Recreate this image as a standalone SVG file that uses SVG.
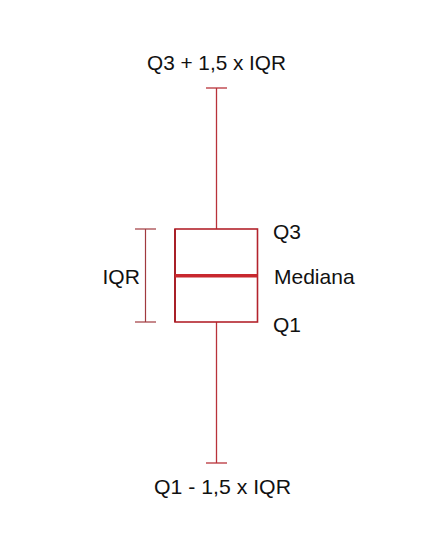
<svg xmlns="http://www.w3.org/2000/svg" width="445" height="555" viewBox="0 0 445 555">
<style>
.t{font-family:"Liberation Sans",Arial,sans-serif;font-size:21px;fill:#111}
.ln{stroke:#b8323a;stroke-width:1.3;fill:none}
.bx{stroke:#b3232c;stroke-width:1.6;fill:#fff}
.br{stroke:#a03a3e;stroke-width:1.2;fill:none}
</style>
<rect width="445" height="555" fill="#fff"/>
<g id="connectors">
<line class="ln" x1="216.5" y1="88" x2="216.5" y2="229"/>
<line class="ln" x1="206" y1="88" x2="227" y2="88"/>
<line class="ln" x1="216.5" y1="322" x2="216.5" y2="463"/>
<line class="ln" x1="206" y1="463" x2="227" y2="463"/>
</g>
<g id="box">
<rect class="bx" x="175" y="229" width="82.5" height="93"/>
<line x1="175" y1="229" x2="175" y2="322" stroke="#a82028" stroke-width="2"/>
<line x1="175" y1="275.7" x2="257.5" y2="275.7" stroke="#c8282e" stroke-width="3.6"/>
</g>
<g id="iqr-bracket">
<line class="br" x1="145.5" y1="229" x2="145.5" y2="322"/>
<line class="br" x1="135" y1="229" x2="156" y2="229"/>
<line class="br" x1="135" y1="322" x2="156" y2="322"/>
</g>
<g id="labels">
<text class="t" x="147" y="70" textLength="139" lengthAdjust="spacingAndGlyphs">Q3 + 1,5 x IQR</text>
<text class="t" x="154" y="494" textLength="137" lengthAdjust="spacingAndGlyphs">Q1 - 1,5 x IQR</text>
<text class="t" x="102.5" y="283.5">IQR</text>
<text class="t" x="274" y="283.5">Mediana</text>
<text class="t" x="273" y="238.5">Q3</text>
<text class="t" x="273" y="332">Q1</text>
</g>
</svg>
